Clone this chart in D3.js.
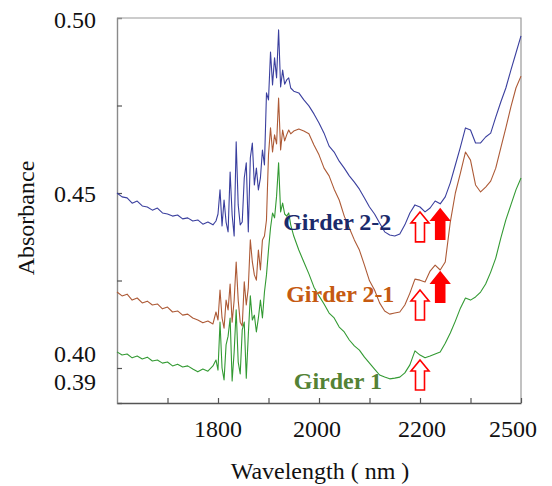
<!DOCTYPE html>
<html><head><meta charset="utf-8">
<script src="https://cdn.jsdelivr.net/npm/d3@7"></script>
<style>html,body{margin:0;padding:0;background:#fff;} svg{display:block;}</style>
</head><body>
<svg id="chart" width="552" height="486"></svg>
<script>
const wavelengths = [1600,1610,1620,1630,1640,1650,1660,1670,1680,1690,1700,1710,1720,1730,1740,1750,1760,1770,1780,1790,
 1796,1800,1804,1808,1812,1816,1820,1824,1828,1832,1836,1840,1844,1848,1852,1856,1860,1864,1868,1872,1876,1880,1884,1888,1892,1896,1900,1904,1908,1912,1916,1920,1924,1928,1932,1936,1940,1944,
 1950,1960,1970,1980,1990,2000,2010,2020,2030,2040,2050,2060,2070,2080,2090,2100,2110,2120,2130,2140,2150,2160,2170,2180,2190,2200,2210,2220,2230,2240,2250,2260,2270,2280,2290,2300,2310,2320,2330,2340,2350,2360,2370,2380,2390,2400];

const girder22 = [0.4500,0.4489,0.4486,0.4471,0.4477,0.4463,0.4460,0.4451,0.4457,0.4443,0.4440,0.4434,0.4437,0.4426,0.4429,0.4420,0.4423,0.4411,0.4417,0.4409,
 0.4420,0.4440,0.4509,0.4406,0.4480,0.4417,0.4389,0.4560,0.4437,0.4377,0.4646,0.4466,0.4409,0.4417,0.4543,0.4586,0.4389,0.4600,0.4643,0.4523,0.4571,0.4509,0.4543,0.4623,0.4580,0.4786,0.4766,0.4903,0.4809,0.4886,0.4829,0.4966,0.4803,0.4851,0.4811,0.4823,0.4829,0.4800,
 0.4791,0.4786,0.4766,0.4749,0.4726,0.4700,0.4671,0.4634,0.4617,0.4591,0.4571,0.4549,0.4531,0.4511,0.4486,0.4460,0.4440,0.4414,0.4389,0.4380,0.4377,0.4383,0.4409,0.4443,0.4466,0.4460,0.4446,0.4457,0.4477,0.4469,0.4489,0.4529,0.4580,0.4631,0.4686,0.4680,0.4643,0.4643,0.4660,0.4671,0.4717,0.4760,0.4800,0.4851,0.4900,0.4949];

const girder21 = [0.4217,0.4206,0.4211,0.4194,0.4200,0.4186,0.4191,0.4180,0.4183,0.4169,0.4174,0.4160,0.4163,0.4151,0.4154,0.4143,0.4137,0.4129,0.4134,0.4126,
 0.4160,0.4137,0.4223,0.4143,0.4114,0.4194,0.4166,0.4240,0.4131,0.4194,0.4303,0.4194,0.4131,0.4120,0.4246,0.4180,0.4229,0.4366,0.4303,0.4266,0.4251,0.4337,0.4280,0.4366,0.4377,0.4423,0.4609,0.4686,0.4617,0.4666,0.4640,0.4771,0.4623,0.4680,0.4649,0.4666,0.4680,0.4669,
 0.4677,0.4683,0.4677,0.4669,0.4637,0.4609,0.4571,0.4549,0.4511,0.4480,0.4434,0.4400,0.4366,0.4337,0.4294,0.4249,0.4223,0.4186,0.4163,0.4154,0.4157,0.4160,0.4180,0.4214,0.4254,0.4251,0.4246,0.4277,0.4294,0.4280,0.4303,0.4417,0.4500,0.4557,0.4617,0.4594,0.4523,0.4503,0.4517,0.4534,0.4571,0.4629,0.4686,0.4746,0.4800,0.4834];

const girder1 = [0.4046,0.4037,0.4040,0.4029,0.4034,0.4026,0.4031,0.4020,0.4023,0.4014,0.4017,0.4006,0.4011,0.4003,0.4006,0.3997,0.3989,0.3997,0.3991,0.4006,
 0.4023,0.3994,0.4131,0.4000,0.3966,0.4066,0.4091,0.4143,0.3963,0.4046,0.4166,0.4017,0.3983,0.4109,0.4131,0.3971,0.4094,0.4206,0.4137,0.4151,0.4103,0.4143,0.4194,0.4143,0.4217,0.4266,0.4337,0.4400,0.4443,0.4429,0.4491,0.4586,0.4446,0.4471,0.4440,0.4434,0.4443,0.4409,
 0.4377,0.4337,0.4303,0.4269,0.4231,0.4206,0.4183,0.4157,0.4143,0.4117,0.4103,0.4080,0.4063,0.4051,0.4031,0.4014,0.3997,0.3980,0.3974,0.3969,0.3971,0.3974,0.3986,0.4009,0.4049,0.4037,0.4029,0.4034,0.4040,0.4046,0.4071,0.4100,0.4134,0.4171,0.4200,0.4194,0.4203,0.4217,0.4240,0.4274,0.4314,0.4371,0.4423,0.4466,0.4509,0.4543];

const seriesNames = ["Girder 2-2", "Girder 2-1", "Girder 1"];
const xTickValues = [1700, 1800, 1900, 2000, 2100, 2200, 2300, 2400];
const xLabelValues = [1800, 2000, 2200, 2400];
const xLabelTexts = ["1800", "2000", "2200", "2500"];
const yTickValues = [0.400, 0.425, 0.450, 0.475];
const yLabelValues = [0.50, 0.45, 0.40, 0.39];
const yLabelTexts = ["0.50", "0.45", "0.40", "0.39"];
const arrowWavelengths = [2200, 2240, 2200, 2240, 2200];
const arrowTipValues = [0.4446, 0.4454, 0.4223, 0.4274, 0.4023];
const arrowFilled = [false, true, false, true, false];

// ---------- drawing ----------
const svg = d3.select("#chart");
const W = 552, H = 486;
const plot = {left: 117, right: 521, top: 18, bottom: 403};
const serif = "'Liberation Serif','Times New Roman',serif";

const x = d3.scaleLinear().domain([1600, 2400]).range([plot.left, plot.right]);
const y = d3.scaleLinear().domain([0.39, 0.50]).range([plot.bottom, plot.top]);

svg.append("rect").attr("width", W).attr("height", H).attr("fill", "#fff");

// frame (top/right)
svg.append("path")
  .attr("d", `M${plot.left},${plot.top}H${plot.right}V${plot.bottom}`)
  .attr("fill", "none").attr("stroke", "#9a9a9a").attr("stroke-width", 1.2);

// left axis
const yAxis = d3.axisRight(y).tickValues(yTickValues).tickSize(5).tickFormat("");
const gy = svg.append("g").attr("transform", `translate(${plot.left},0)`).call(yAxis);
gy.select(".domain").attr("stroke", "#8a8a8a").attr("stroke-width", 1.4);
gy.selectAll(".tick line").attr("stroke", "#555").attr("stroke-width", 1.2);

// bottom axis
const xAxis = d3.axisTop(x).tickValues(xTickValues).tickSize(5).tickSizeOuter(0).tickFormat("");
const gx = svg.append("g").attr("transform", `translate(0,${plot.bottom})`).call(xAxis);
gx.select(".domain").attr("stroke", "#555").attr("stroke-width", 1.4);
gx.selectAll(".tick line").attr("stroke", "#555").attr("stroke-width", 1.2);

// x labels
const xNudge = {1800: 0, 2000: -2, 2200: 2, 2400: -8};
svg.append("g").selectAll("text").data(xLabelValues).join("text")
  .attr("x", d => x(d) + xNudge[d]).attr("y", 437)
  .attr("text-anchor", "middle")
  .attr("font-family", serif).attr("font-size", 24).attr("fill", "#111")
  .text((d, i) => xLabelTexts[i]);

// y labels
const yNudge = {0.50: 10, 0.45: 9, 0.40: -6, 0.39: -13};
svg.append("g").selectAll("text").data(yLabelValues).join("text")
  .attr("x", 96).attr("y", d => y(d) + yNudge[d])
  .attr("text-anchor", "end")
  .attr("font-family", serif).attr("font-size", 24).attr("fill", "#111")
  .text((d, i) => yLabelTexts[i]);

// axis titles
svg.append("text").attr("x", 320).attr("y", 479).attr("text-anchor", "middle")
  .attr("font-family", serif).attr("font-size", 24).attr("fill", "#111")
  .text("Wavelength ( nm )");
svg.append("text").attr("transform", "translate(34,218) rotate(-90)").attr("text-anchor", "middle")
  .attr("font-family", serif).attr("font-size", 24).attr("fill", "#111")
  .text("Absorbance");

// lines
const series = [
  {name: seriesNames[0], values: girder22, color: "#3a3f9e", labelColor: "#1b2a6b", lx: 1929, ly: 0.4394},
  {name: seriesNames[1], values: girder21, color: "#ad5a36", labelColor: "#c55a11", lx: 1935, ly: 0.4189},
  {name: seriesNames[2], values: girder1,  color: "#339a33", labelColor: "#548235", lx: 1950, ly: 0.3940}
];
const line = d3.line().x((d, i) => x(wavelengths[i])).y(d => y(d));
svg.append("g").selectAll("path").data(series).join("path")
  .attr("d", d => line(d.values))
  .attr("fill", "none").attr("stroke", d => d.color)
  .attr("stroke-width", 1.1).attr("stroke-linejoin", "round");

// series labels
svg.append("g").selectAll("text").data(series).join("text")
  .attr("x", d => x(d.lx)).attr("y", d => y(d.ly))
  .attr("font-family", serif).attr("font-size", 24).attr("font-weight", "bold")
  .attr("fill", d => d.labelColor)
  .text(d => d.name);

// arrows
const arrowPath = (cx, ty) => {
  const hw = 9, hh = 11, sw = 4.5, len = 30;
  return `M${cx},${ty}L${cx + hw},${ty + hh}L${cx + sw},${ty + hh}L${cx + sw},${ty + len}L${cx - sw},${ty + len}L${cx - sw},${ty + hh}L${cx - hw},${ty + hh}Z`;
};
svg.append("g").selectAll("path").data(arrowWavelengths).join("path")
  .attr("d", (d, i) => arrowPath(x(d), y(arrowTipValues[i])))
  .attr("fill", (d, i) => arrowFilled[i] ? "#ff0000" : "#fff")
  .attr("stroke", "#ff0000").attr("stroke-width", 1.6).attr("stroke-linejoin", "miter");
</script>
</body></html>
